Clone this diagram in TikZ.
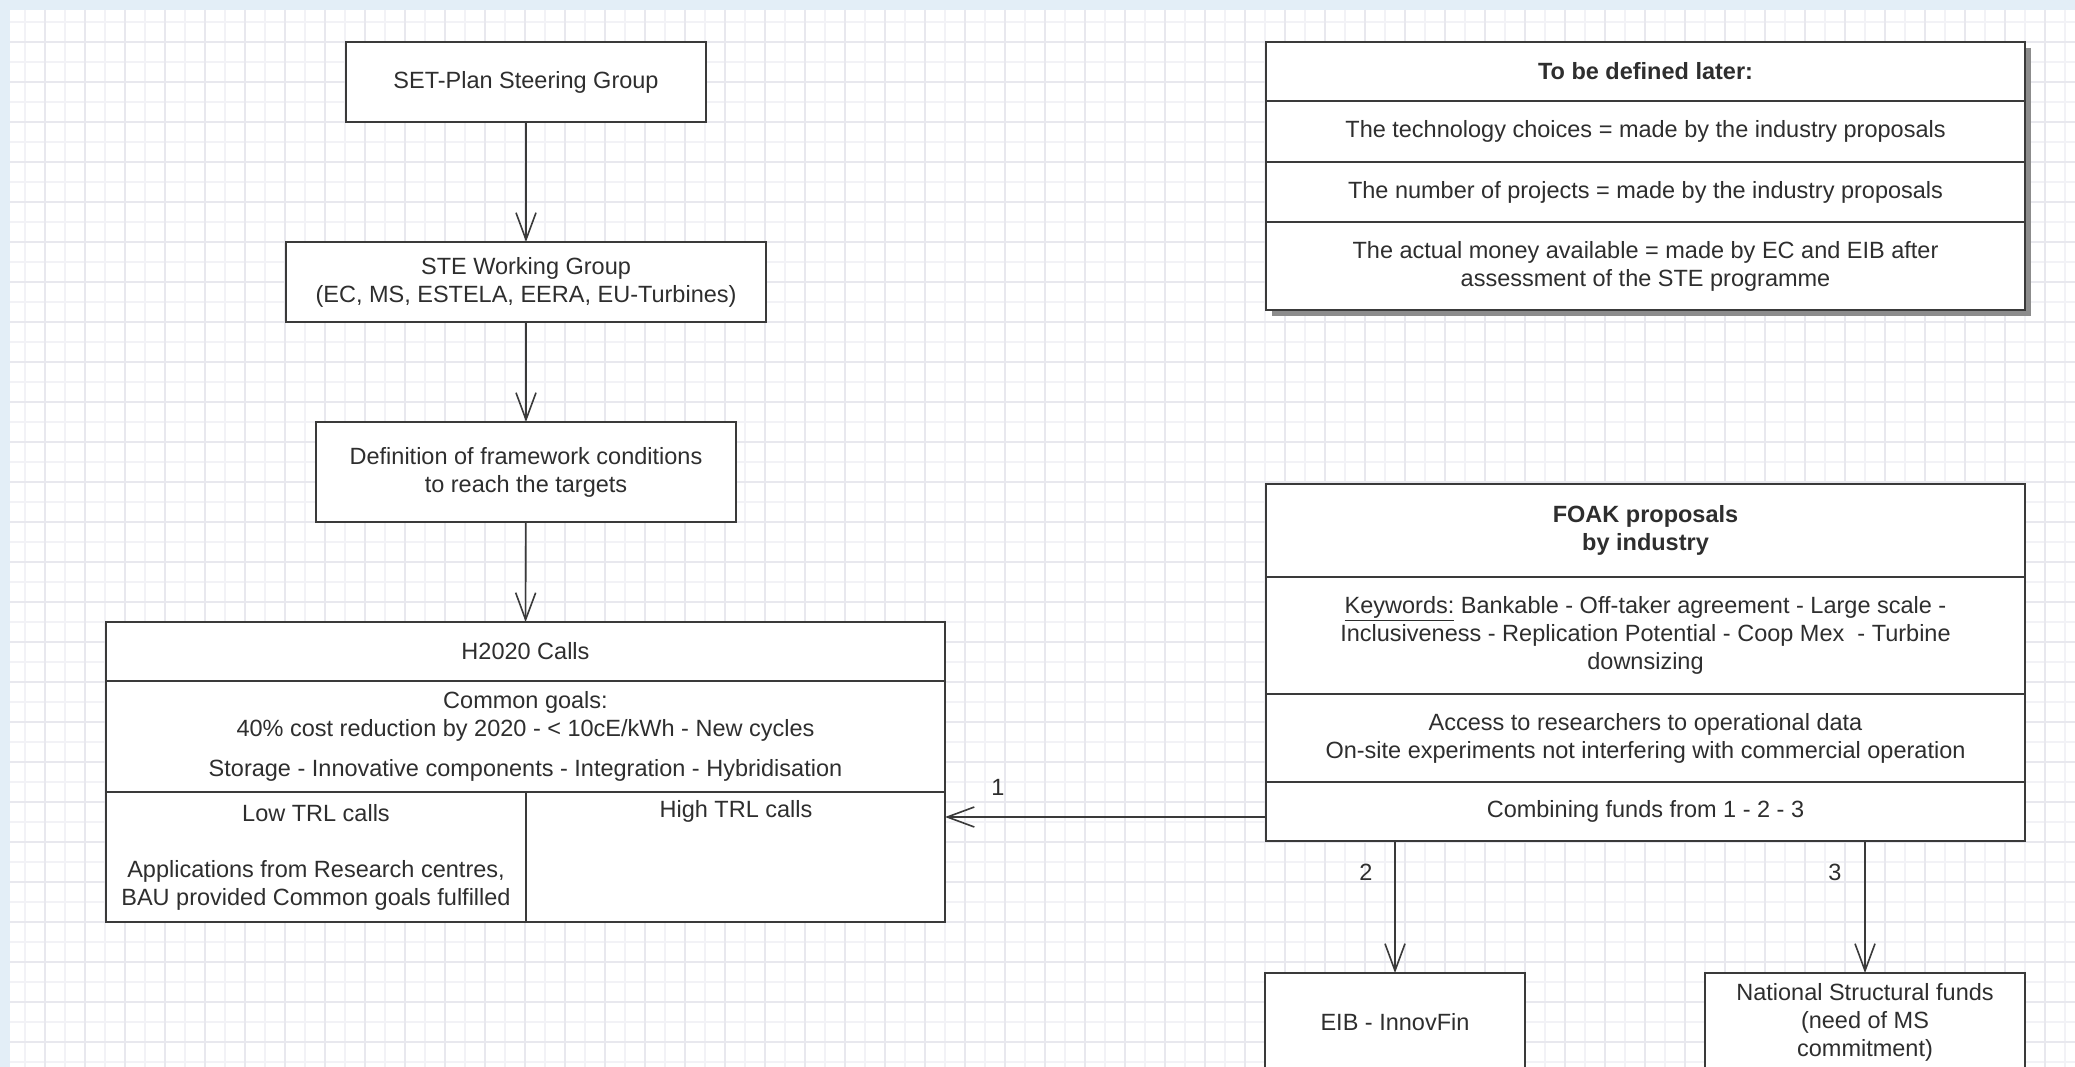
\documentclass[tikz,border=0pt]{standalone}
\usepackage{fontspec}
\setmainfont{Liberation Sans}
\usetikzlibrary{arrows.meta}
\definecolor{linec}{HTML}{3A3A3A}
\definecolor{textc}{HTML}{2E2E2E}
\definecolor{framec}{HTML}{E3EEF7}
\definecolor{gmaj}{HTML}{E8E8EE}
\definecolor{gmin}{HTML}{F2F2F6}
\definecolor{shadowc}{HTML}{8C8C8C}
\newcommand{\fsz}{\fontsize{23.5}{28}\selectfont}
\tikzset{
  box/.style={draw=linec, line width=1.8pt, fill=white, rectangle, inner sep=0pt,
    outer sep=0pt, text=textc, align=center, font=\fsz, anchor=north west},
  txt/.style={inner sep=0pt, text=textc, align=center, font=\fsz},
  arr/.style={draw=linec, line width=1.6pt, -{Straight Barb[length=27pt,width=20pt]}},
  lbl/.style={inner sep=0pt, text=textc, font=\fsz},
}
\begin{document}
\begin{tikzpicture}[x=1pt,y=-1pt]
\useasboundingbox (0,0) rectangle (2075,1067);
\clip (0,0) rectangle (2075,1067);
\fill[framec] (0,0) rectangle (2075,1067);
\fill[white] (10,10) rectangle (2075,1067);
% grid
\foreach \x in {25,65,...,2075} \draw[gmin, line width=1.2pt] (\x,10) -- (\x,1067);
\foreach \y in {22,62,...,1067} \draw[gmin, line width=1.2pt] (10,\y) -- (2075,\y);
\foreach \x in {45,85,...,2075} \draw[gmaj, line width=1.4pt] (\x,10) -- (\x,1067);
\foreach \y in {42,82,...,1067} \draw[gmaj, line width=1.4pt] (10,\y) -- (2075,\y);

% left chain
\node[box, minimum width=360pt, minimum height=80pt] (set) at (346,42) {SET-Plan Steering Group};
\node[box, minimum width=480pt, minimum height=80pt] (ste) at (286,242) {STE Working Group\\(EC, MS, ESTELA, EERA, EU-Turbines)};
\node[box, minimum width=420pt, minimum height=100pt] (def) at (316,422) {Definition of framework conditions\\to reach the targets};

% H2020 box
\node[box, minimum width=839pt, minimum height=59pt] (h) at (106,622) {H2020 Calls};
\node[box, minimum width=839pt, minimum height=111pt] (hgoals) at (106,681) {Common goals:\\40\% cost reduction by 2020 - < 10cE/kWh - New cycles\\[12pt]Storage - Innovative components - Integration - Hybridisation};
\node[box, minimum width=420pt, minimum height=130pt] (hlow) at (106,792) {Low TRL calls\\[28pt]Applications from Research centres,\\BAU provided Common goals fulfilled};
\node[box, minimum width=419pt, minimum height=130pt] (hhigh) at (526,792) {};
\node[txt] (hhightxt) at (736,811) {High TRL calls};

\draw[arr] (set) -- (ste);
\draw[arr] (ste) -- (def);
\draw[arr] (def) -- (h);

% To be defined box with shadow
\fill[shadowc] (1272,48) rectangle (2031,316);
\node[box, minimum width=759pt, minimum height=59pt] (tb1) at (1266,42) {\bfseries To be defined later:};
\node[box, minimum width=759pt, minimum height=61pt] (tb2) at (1266,101) {The technology choices = made by the industry proposals};
\node[box, minimum width=759pt, minimum height=60pt] (tb3) at (1266,162) {The number of projects = made by the industry proposals};
\node[box, minimum width=759pt, minimum height=88pt] (tb4) at (1266,222) {The actual money available = made by EC and EIB after\\assessment of the STE programme};

% FOAK box
\node[box, minimum width=759pt, minimum height=93pt] (f1) at (1266,484) {\bfseries FOAK proposals\\\bfseries by industry};
\node[box, minimum width=759pt, minimum height=117pt] (f2) at (1266,577) {\underline{Keywords:} Bankable - Off-taker agreement - Large scale -\\Inclusiveness - Replication Potential - Coop Mex~ - Turbine\\downsizing};
\node[box, minimum width=759pt, minimum height=88pt] (f3) at (1266,694) {Access to researchers to operational data\\On-site experiments not interfering with commercial operation};
\node[box, minimum width=759pt, minimum height=59pt] (f4) at (1266,782) {Combining funds from 1 - 2 - 3};

% funding boxes
\node[box, minimum width=260pt, minimum height=98pt] (eib) at (1265,973) {EIB - InnovFin};
\node[box, minimum width=320pt, minimum height=98pt] (nat) at (1705,973) {National Structural funds\\(need of MS\\commitment)};

% connectors
\coordinate (a1s) at ([yshift=-5.5pt]f4.west);
\draw[arr] (a1s) -- (a1s -| hhigh.east) node[lbl, pos=0.835, yshift=30pt] (l1) {1};
\draw[arr] (eib.north |- f4.south) -- (eib.north) node[lbl, pos=0.235, xshift=-29pt] (l2) {2};
\draw[arr] (nat.north |- f4.south) -- (nat.north) node[lbl, pos=0.235, xshift=-30pt] (l3) {3};
\end{tikzpicture}
\end{document}
